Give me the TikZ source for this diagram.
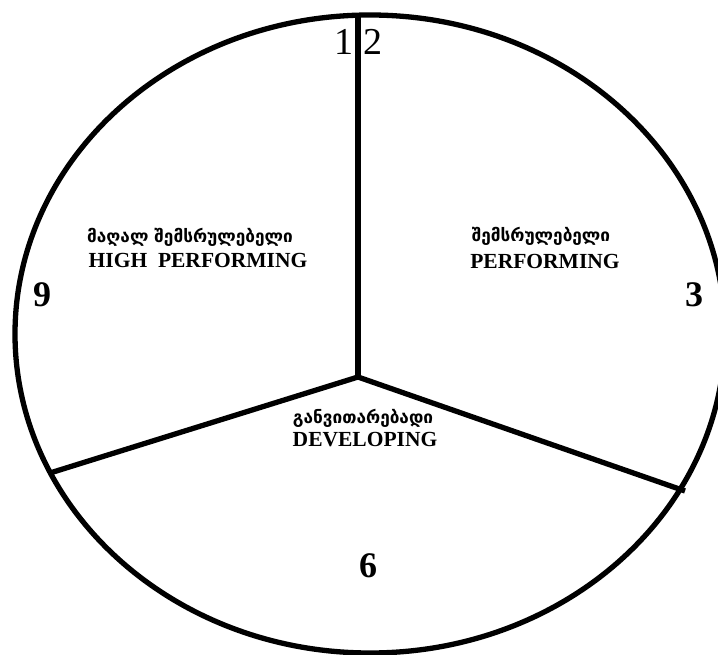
\documentclass[tikz,border=0pt]{standalone}
\usepackage{fontspec}
\setmainfont{Liberation Serif}
\newfontfamily\geo{DejaVu Sans}
\begin{document}
\begin{tikzpicture}[x=1pt,y=-1pt,
  rim/.style={line width=5.3pt},
  spoke/.style={line width=5.3pt},
  geotext/.style={font=\geo\bfseries\fontsize{17.2}{20}\selectfont, anchor=base, inner sep=0pt},
  entext/.style={font=\bfseries\fontsize{21.5}{24}\selectfont, anchor=base, inner sep=0pt},
  clocknum/.style={font=\fontsize{38}{40}\selectfont, anchor=base, inner sep=0pt},
  boldnum/.style={font=\bfseries\fontsize{36}{38}\selectfont, anchor=base, inner sep=0pt}]
\useasboundingbox (0,0) rectangle (718,655);
\fill[white] (0,0) rectangle (718,655);
\draw[rim] (370,334) ellipse [x radius=355, y radius=319];
\coordinate (hub) at (358,377);
\coordinate (topend) at (358,15);
\coordinate (leftend) at (50,473);
\coordinate (rightend) at (685,491);
\draw[spoke] (hub) -- (topend);
\draw[spoke] (hub) -- (leftend);
\draw[spoke] (hub) -- (rightend);
\node[clocknum] (n1) at (344,55) {1};
\node[clocknum] (n2) at (373,55) {2};
\node[boldnum] (n9) at (42,307) {9};
\node[boldnum] (n3) at (694,307) {3};
\node[boldnum] (n6) at (368,577) {6};
\node[geotext] (hpgeo) at (190,243) {მაღალ შემსრულებელი};
\node[entext] (hpen) at (198,268) {HIGH\ \ PERFORMING};
\node[geotext] (pgeo) at (541,242) {შემსრულებელი};
\node[entext] (pen) at (545,269) {PERFORMING};
\node[geotext] (dgeo) at (363,423) {განვითარებადი};
\node[entext] (den) at (365,446) {DEVELOPING};
\end{tikzpicture}
\end{document}
